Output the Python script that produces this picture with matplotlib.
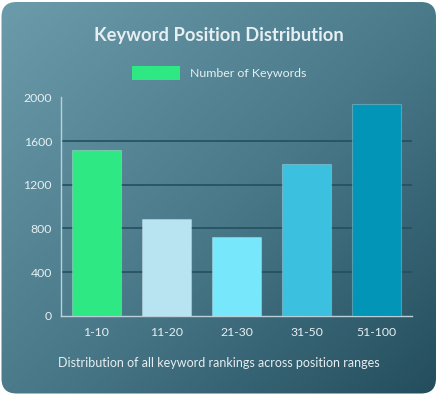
import numpy as np
import matplotlib
matplotlib.use("Agg")
import matplotlib.pyplot as plt
from matplotlib.patches import FancyBboxPatch, Patch
from matplotlib.colors import LinearSegmentedColormap

categories = ["1-10", "11-20", "21-30", "31-50", "51-100"]
keyword_counts = [1520, 890, 720, 1390, 1940]
bar_colors = ["#2ee884", "#b8e4f2", "#77e8fc", "#3bc0df", "#0295b8"]
y_ticks = [0, 400, 800, 1200, 1600, 2000]

title = "Keyword Position Distribution"
legend_label = "Number of Keywords"
caption = "Distribution of all keyword rankings across position ranges"

plt.rcParams["font.family"] = ["Lato", "DejaVu Sans"]
text_color = "#e6eff2"

W, H = 438, 398
fig = plt.figure(figsize=(W / 100, H / 100), dpi=100)
fig.patch.set_facecolor("white")

# card background with diagonal gradient (light top-left, dark bottom-right)
bg = fig.add_axes([0, 0, 1, 1], zorder=0)
bg.set_xlim(0, W)
bg.set_ylim(0, H)
bg.axis("off")
card = FancyBboxPatch((1.5, 4.5), W - 3.5, H - 6.5,
                      boxstyle="round,pad=0,rounding_size=15",
                      facecolor="none", edgecolor="none")
bg.add_patch(card)
gx, gy = np.meshgrid(np.linspace(0, 1, 200), np.linspace(0, 1, 200))
grad = (gx + gy) / 2
cmap = LinearSegmentedColormap.from_list("card", ["#6c9bab", "#4b7b8b", "#234d5d"])
img = bg.imshow(grad, cmap=cmap, extent=[0, W, 0, H], origin="upper", aspect="auto")
img.set_clip_path(card)

# chart axes
ax = fig.add_axes([61 / W, 1 - 315.7 / H, 351 / W, 218.2 / H], zorder=1)
ax.set_facecolor("none")
x = np.arange(len(categories))
ax.bar(x, keyword_counts, width=0.7, color=bar_colors,
       edgecolor=(1, 1, 1, 0.25), linewidth=0.8, zorder=3)

ax.set_xlim(-0.5, len(categories) - 0.5)
ax.set_ylim(0, 2000)
ax.set_yticks(y_ticks)
ax.set_xticks(x)
ax.set_xticklabels(categories)
for y in y_ticks[1:-1]:
    ax.axhline(y, color="#244f5f", linewidth=1.2, zorder=1)

for s in ["top", "right"]:
    ax.spines[s].set_visible(False)
for s in ["left", "bottom"]:
    ax.spines[s].set_color("#b9d0d8")
    ax.spines[s].set_linewidth(1.0)
ax.tick_params(axis="both", length=0, colors=text_color, labelsize=8.8)
ax.tick_params(axis="y", pad=6.5)
ax.tick_params(axis="x", pad=8)

fig.text(0.5, 1 - 35 / H, title, ha="center", va="center",
         fontsize=13.2, fontweight="bold", color=text_color)
fig.legend(handles=[Patch(facecolor=bar_colors[0], label=legend_label)],
           loc="center", bbox_to_anchor=(219 / W, 1 - 73 / H),
           frameon=False, fontsize=8.9, labelcolor=text_color,
           handlelength=3.9, handleheight=1.28, handletextpad=0.8)
fig.text(0.5, 1 - 363 / H, caption, ha="center", va="center",
         fontsize=9, color=text_color)

fig.savefig("out.png", dpi=100)
